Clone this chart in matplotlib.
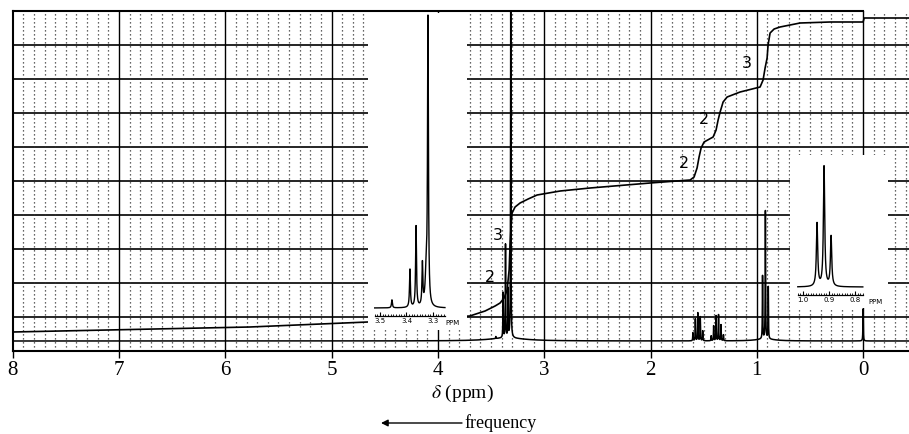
import matplotlib
matplotlib.use("Agg")
import matplotlib.pyplot as plt
import numpy as np
from matplotlib.ticker import FixedLocator, NullFormatter

plt.rcParams["mathtext.fontset"] = "stix"

# ---- data (ppm, height in chart pixels) ----
main_peak_ppm = [3.455, 3.387, 3.364, 3.340, 3.315,
                 1.601, 1.578, 1.555, 1.532, 1.509,
                 1.429, 1.406, 1.383, 1.360, 1.337, 1.314,
                 0.946, 0.919, 0.892, 0.0,
                 3.35, 0.92]
main_peak_height = [2, 45, 93, 48, 326,
                    8, 22, 28, 24, 10,
                    5, 15, 25, 26, 16, 6,
                    63, 128, 52, 32,
                    3, 2]
main_peak_width = [0.002, 0.002, 0.002, 0.002, 0.002,
                   0.002, 0.002, 0.002, 0.002, 0.002,
                   0.002, 0.002, 0.002, 0.002, 0.002, 0.002,
                   0.002, 0.002, 0.002, 0.002,
                   0.2, 0.1]

inset1_peak_ppm = [3.455, 3.387, 3.364, 3.340, 3.319, 3.326]
inset1_peak_height = [8, 38, 81, 42, 285, 30]
inset1_peak_width = [0.002, 0.002, 0.002, 0.002, 0.002, 0.004]

inset2_peak_ppm = [0.946, 0.919, 0.892]
inset2_peak_height = [63, 120, 50]
inset2_peak_width = [0.003, 0.003, 0.003]

integral_ppm = [8.0, 5.77, 4.66, 3.70, 3.556, 3.462, 3.415, 3.377, 3.349, 3.330,
                3.321, 3.311, 3.302, 3.274, 3.227, 3.151, 3.067, 2.850, 2.568,
                2.004, 1.627, 1.590, 1.562, 1.543, 1.524, 1.496, 1.411, 1.383,
                1.364, 1.345, 1.317, 1.279, 1.157, 0.969, 0.941, 0.922, 0.903,
                0.894, 0.875, 0.837, 0.781, 0.593, 0.310, 0.0, -0.01, -0.45]
integral_level = [19, 24, 29, 35, 40, 45, 48, 53, 61, 81,
                  106, 126, 138, 144, 148, 152, 156, 160, 163,
                  168, 171, 174, 183, 194, 203, 209, 214, 221,
                  231, 239, 249, 254, 259, 264, 271, 283, 293,
                  306, 318, 322, 324, 328, 329, 329, 333, 333]

integral_labels = ["3", "2", "2", "3", "2"]
integral_label_ppm = [1.09, 1.50, 1.69, 3.44, 3.51]
integral_label_level = [288, 231, 188, 116, 74]

major_ticks = [8, 7, 6, 5, 4, 3, 2, 1, 0]


def lorentz_sum(x, centers, heights, widths):
    y = np.zeros_like(x)
    for c, h, w in zip(centers, heights, widths):
        y += h * w ** 2 / ((x - c) ** 2 + w ** 2)
    return y


W, H = 909, 434


def px_rect(x0, y0, x1, y1):
    return [x0 / W, 1 - y1 / H, (x1 - x0) / W, (y1 - y0) / H]


fig = plt.figure(figsize=(W / 100, H / 100), dpi=100)

# ---- main chart (y in pixels above the bottom frame line) ----
ax = fig.add_axes(px_rect(12.7, 11, 909, 351))
ax.set_xlim(8, 8 - (909 - 12.7) / 106.3)
ax.set_ylim(0, 340)

for v in np.arange(34, 340, 34):
    ax.axhline(v, color="black", lw=1.2, zorder=1)
for p in np.round(np.arange(-0.4, 8.0, 0.1), 1):
    if abs(p - round(p)) > 0.01:
        ax.axvline(p, color="#333333", lw=0.9, ls=(0, (1, 2.2)), zorder=1)
for p in major_ticks[1:]:
    ax.axvline(p, color="black", lw=1.0, zorder=1)

baseline = 10
xs = np.linspace(8, -0.45, 60000)
ys = baseline + lorentz_sum(xs, main_peak_ppm, main_peak_height, main_peak_width)
ax.plot(xs, ys, color="black", lw=1.1, zorder=3)

ax.plot(integral_ppm, integral_level, color="black", lw=1.2, zorder=3)
for t, p, v in zip(integral_labels, integral_label_ppm, integral_label_level):
    ax.text(p, v, t, fontsize=11.5, ha="center", va="center", zorder=4)

ax.set_xticks(major_ticks)
ax.set_xticklabels([str(t) for t in major_ticks], fontfamily="Liberation Serif",
                   fontsize=15)
ax.set_yticks([])
ax.tick_params(axis="x", direction="out", length=5, width=1, pad=2)
for s in ["left", "top", "bottom"]:
    ax.spines[s].set_linewidth(1.5)
ax.spines["top"].set_bounds(8, 0)
ax.spines["right"].set_visible(False)

# ---- inset 1 : 3.5 - 3.3 ppm ----
ax1 = fig.add_axes(px_rect(368, 13, 467, 330), zorder=2)
ax1.set_facecolor("white")
ax1.set_xlim(3.5 + 12 / 265, 3.5 - 87 / 265)
ax1.set_ylim(-22, 295)
x1 = np.linspace(3.52, 3.255, 6000)
ax1.plot(x1, lorentz_sum(x1, inset1_peak_ppm, inset1_peak_height, inset1_peak_width),
         color="black", lw=1.0)
for s in ["left", "right", "top"]:
    ax1.spines[s].set_visible(False)
ax1.spines["bottom"].set_position(("data", -8))
ax1.spines["bottom"].set_bounds(3.52, 3.255)
ax1.spines["bottom"].set_linewidth(0.9)
ax1.xaxis.set_major_locator(FixedLocator([3.5, 3.4, 3.3]))
ax1.xaxis.set_minor_locator(FixedLocator(np.arange(3.26, 3.52, 0.01)))
ax1.xaxis.set_minor_formatter(NullFormatter())
ax1.set_xticklabels(["3.5", "3.4", "3.3"], fontsize=5)
ax1.tick_params(axis="x", which="major", direction="in", length=3, width=0.8, pad=1.5)
ax1.tick_params(axis="x", which="minor", direction="in", length=1.5, width=0.6)
ax1.set_yticks([])
ax1.text(3.255, -15, "PPM", fontsize=5, ha="left", va="center")

# ---- inset 2 : 1.0 - 0.8 ppm ----
ax2 = fig.add_axes(px_rect(790, 155, 888, 308), zorder=2)
ax2.set_facecolor("white")
ax2.set_xlim(1.0 + 13 / 260, 1.0 - 85 / 260)
ax2.set_ylim(-21, 132)
x2 = np.linspace(1.02, 0.77, 6000)
ax2.plot(x2, lorentz_sum(x2, inset2_peak_ppm, inset2_peak_height, inset2_peak_width),
         color="black", lw=1.0)
for s in ["left", "right", "top"]:
    ax2.spines[s].set_visible(False)
ax2.spines["bottom"].set_position(("data", -8))
ax2.spines["bottom"].set_bounds(1.02, 0.77)
ax2.spines["bottom"].set_linewidth(0.9)
ax2.xaxis.set_major_locator(FixedLocator([1.0, 0.9, 0.8]))
ax2.xaxis.set_minor_locator(FixedLocator(np.arange(0.77, 1.025, 0.01)))
ax2.xaxis.set_minor_formatter(NullFormatter())
ax2.set_xticklabels(["1.0", "0.9", "0.8"], fontsize=5)
ax2.tick_params(axis="x", which="major", direction="in", length=3, width=0.8, pad=1.5)
ax2.tick_params(axis="x", which="minor", direction="in", length=1.5, width=0.6)
ax2.set_yticks([])
ax2.text(0.75, -15, "PPM", fontsize=5, ha="left", va="center")

# ---- axis captions ----
fig.text(462 / W, 1 - 393 / H, r"$\delta$ (ppm)", fontfamily="Liberation Serif",
         fontsize=14, ha="center", va="center")
fig.text(464 / W, 1 - 423 / H, "frequency", fontfamily="Liberation Serif",
         fontsize=13, ha="left", va="center")
ax.annotate("", xy=(381, H - 423), xytext=(462, H - 423), xycoords="figure pixels",
            textcoords="figure pixels",
            arrowprops=dict(arrowstyle="-|>", lw=1.0, color="black",
                            mutation_scale=10, shrinkA=0, shrinkB=0))

fig.savefig("out.png", dpi=100)
